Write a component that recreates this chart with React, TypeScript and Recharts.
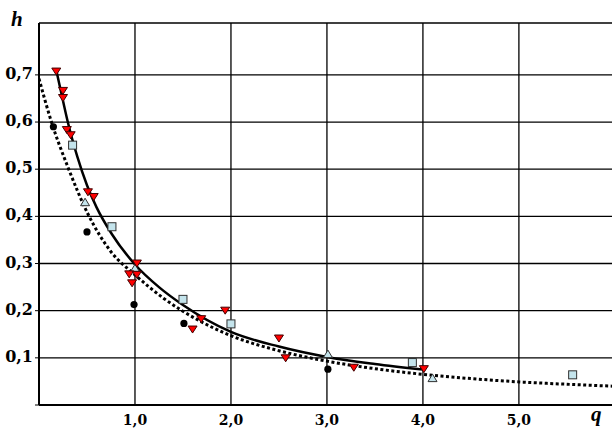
import React from 'react';
import { ComposedChart, XAxis, YAxis, CartesianGrid, Line, Scatter, ReferenceLine } from 'recharts';

// Observation series (q, h)
const redTriangles = [
  { q: 0.18, h: 0.707 }, { q: 0.25, h: 0.666 }, { q: 0.25, h: 0.651 },
  { q: 0.29, h: 0.583 }, { q: 0.33, h: 0.572 }, { q: 0.51, h: 0.451 },
  { q: 0.57, h: 0.441 }, { q: 1.02, h: 0.300 }, { q: 0.94, h: 0.277 },
  { q: 1.02, h: 0.276 }, { q: 0.97, h: 0.258 }, { q: 1.69, h: 0.182 },
  { q: 1.60, h: 0.160 }, { q: 1.94, h: 0.200 }, { q: 2.50, h: 0.141 },
  { q: 2.57, h: 0.099 }, { q: 3.28, h: 0.079 }, { q: 4.01, h: 0.076 },
];
const blueSquares = [
  { q: 0.35, h: 0.551 }, { q: 0.76, h: 0.378 }, { q: 1.50, h: 0.224 },
  { q: 2.00, h: 0.172 }, { q: 3.89, h: 0.090 }, { q: 5.56, h: 0.064 },
];
const blueTriangles = [
  { q: 0.48, h: 0.430 }, { q: 1.00, h: 0.290 }, { q: 3.01, h: 0.108 }, { q: 4.10, h: 0.057 },
];
const blackCircles = [
  { q: 0.15, h: 0.590 }, { q: 0.50, h: 0.367 }, { q: 0.99, h: 0.213 },
  { q: 1.51, h: 0.173 }, { q: 3.01, h: 0.076 },
];

// Fitted curves
const solidCurve = [
  { q: 0.18, h: 0.71 }, { q: 0.25, h: 0.645 }, { q: 0.3, h: 0.60 },
  { q: 0.4, h: 0.526 }, { q: 0.5, h: 0.466 }, { q: 0.6, h: 0.419 },
  { q: 0.76, h: 0.362 }, { q: 1.0, h: 0.298 }, { q: 1.25, h: 0.25 },
  { q: 1.5, h: 0.212 }, { q: 2.0, h: 0.155 }, { q: 2.5, h: 0.124 },
  { q: 3.0, h: 0.102 }, { q: 3.5, h: 0.087 }, { q: 4.0, h: 0.075 },
];
const dottedCurve = [
  { q: 0.0, h: 0.692 }, { q: 0.13, h: 0.60 }, { q: 0.3, h: 0.505 },
  { q: 0.51, h: 0.405 }, { q: 0.75, h: 0.325 }, { q: 1.0, h: 0.276 },
  { q: 1.3, h: 0.226 }, { q: 1.65, h: 0.181 }, { q: 2.0, h: 0.147 },
  { q: 2.5, h: 0.115 }, { q: 3.0, h: 0.093 }, { q: 3.5, h: 0.077 },
  { q: 4.0, h: 0.065 }, { q: 4.5, h: 0.056 }, { q: 5.0, h: 0.049 },
  { q: 5.5, h: 0.044 }, { q: 5.97, h: 0.040 },
];

const xTicks = [0, 1, 2, 3, 4, 5];
const yTicks = [0, 0.1, 0.2, 0.3, 0.4, 0.5, 0.6, 0.7];

const FONT = "'DejaVu Serif', serif";
const FONT_X = "'DejaVu Serif', serif";

const RedTri = (p: any) => {
  const { cx, cy } = p;
  return <polygon points={`${cx - 4.5},${cy - 3.5} ${cx + 4.5},${cy - 3.5} ${cx},${cy + 3.5}`} fill="#ff0000" stroke="#400000" strokeWidth={1} />;
};
const BlueTri = (p: any) => {
  const { cx, cy } = p;
  return <polygon points={`${cx - 4.5},${cy + 3.5} ${cx + 4.5},${cy + 3.5} ${cx},${cy - 4}`} fill="#c4e4ec" stroke="#303030" strokeWidth={1} />;
};
const BlueSq = (p: any) => {
  const { cx, cy } = p;
  return <rect x={cx - 4} y={cy - 4} width={8} height={8} fill="#c4e4ec" stroke="#303030" strokeWidth={1} />;
};
const Dot = (p: any) => {
  const { cx, cy } = p;
  return <circle cx={cx} cy={cy} r={3.6} fill="#000" />;
};

const fmt = (v: number) => (v === 0 ? '' : v.toFixed(1).replace('.', ','));

const XTick = (p: any) => {
  const { x, payload } = p;
  return (
    <text x={x} y={425} textAnchor="middle" style={{ fontFamily: FONT_X, fontWeight: 700, fontSize: 14, fill: '#000' }}>
      {fmt(payload.value)}
    </text>
  );
};
const YTick = (p: any) => {
  const { x, y, payload } = p;
  return (
    <text x={x} y={y + 4} textAnchor="end" style={{ fontFamily: FONT, fontWeight: 700, fontSize: 16, fill: '#000' }}>
      {fmt(payload.value)}
    </text>
  );
};

export default function App() {
  return (
    <div style={{ position: 'absolute', left: 0, top: 0, width: 612, height: 429, background: '#fff' }}>
      <ComposedChart width={612} height={429} margin={{ top: 23, right: 0, bottom: 0, left: 0 }}>
        <CartesianGrid stroke="#000" strokeWidth={1.3} horizontalValues={[0.1, 0.2, 0.3, 0.4, 0.5, 0.6, 0.7]} verticalValues={[1, 2, 3, 4, 5]} />
        <ReferenceLine y={0.81} stroke="#000" strokeWidth={1.3} />
        <XAxis
          type="number"
          dataKey="q"
          domain={[0, 5.97]}
          ticks={xTicks}
          height={24}
          axisLine={{ stroke: '#000', strokeWidth: 2 }}
          tickLine={false}
          tick={<XTick />}
          allowDataOverflow
        />
        <YAxis
          type="number"
          dataKey="h"
          domain={[0, 0.81]}
          ticks={yTicks}
          width={39}
          axisLine={{ stroke: '#000', strokeWidth: 2 }}
          tickLine={{ stroke: '#000', strokeWidth: 1 }}
          tickSize={4}
          tick={<YTick />}
          allowDataOverflow
        />
        <Line data={dottedCurve} dataKey="h" type="monotone" stroke="#000" strokeWidth={3} strokeDasharray="3 2.5" dot={false} activeDot={false} isAnimationActive={false} />
        <Line data={solidCurve} dataKey="h" type="monotone" stroke="#000" strokeWidth={2.5} dot={false} activeDot={false} isAnimationActive={false} />
        <Scatter data={blackCircles} dataKey="h" shape={Dot} isAnimationActive={false} />
        <Scatter data={blueSquares} dataKey="h" shape={BlueSq} isAnimationActive={false} />
        <Scatter data={blueTriangles} dataKey="h" shape={BlueTri} isAnimationActive={false} />
        <Scatter data={redTriangles} dataKey="h" shape={RedTri} isAnimationActive={false} />
      </ComposedChart>
      <span style={{ position: 'absolute', left: 11, top: 9, fontFamily: "'Liberation Serif', serif", fontWeight: 700, fontStyle: 'italic', fontSize: 21, lineHeight: '21px' }}>h</span>
      <span style={{ position: 'absolute', left: 591, top: 404, fontFamily: "'Liberation Serif', serif", fontWeight: 700, fontStyle: 'italic', fontSize: 21, lineHeight: '21px' }}>q</span>
    </div>
  );
}
